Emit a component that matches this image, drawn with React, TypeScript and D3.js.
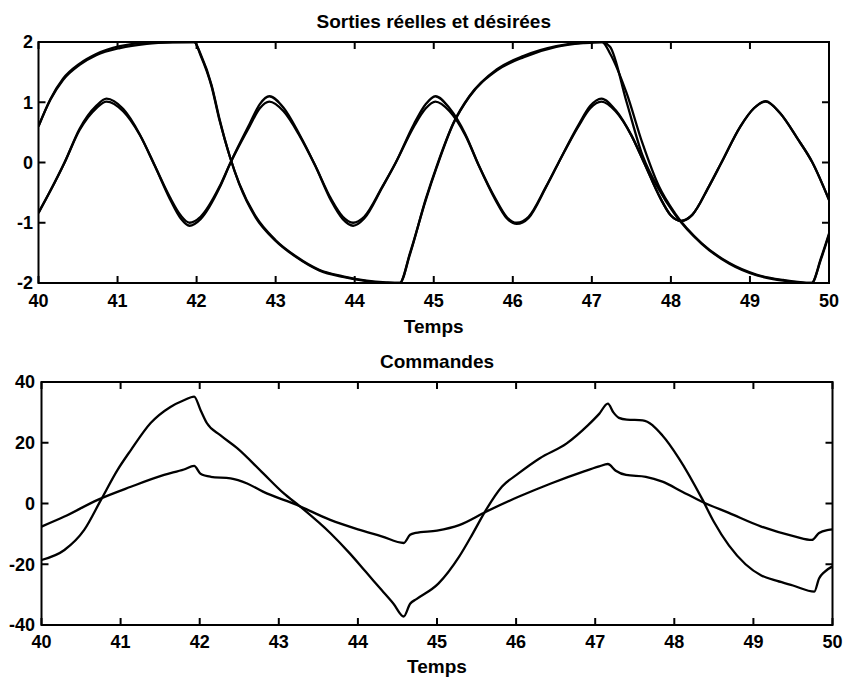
import React from "react";
import * as d3 from "d3";

// ---------- Data ----------
const xTicks = [40, 41, 42, 43, 44, 45, 46, 47, 48, 49, 50];
const topYTicks = [-2, -1, 0, 1, 2];
const bottomYTicks = [-40, -20, 0, 20, 40];

// Top panel: square-like output (desired and real)
const sqTime = [40.0, 40.15, 40.31, 40.52, 40.73, 41.03, 41.37, 41.7, 41.97, 42.05, 42.19, 42.29, 42.42, 42.54, 42.75, 43.0, 43.26, 43.55, 43.85, 44.15, 44.4, 44.57, 44.7, 44.9, 45.04, 45.25, 45.45, 45.8, 46.14, 46.55, 46.89, 47.13, 47.23, 47.44, 47.64, 47.85, 48.05, 48.39, 48.74, 49.08, 49.42, 49.78, 49.9, 50.0];
const sqDesired = [0.6, 1.04, 1.37, 1.62, 1.78, 1.9, 1.97, 1.995, 2.0, 1.78, 1.26, 0.7, 0.1, -0.35, -0.9, -1.29, -1.56, -1.78, -1.89, -1.96, -1.99, -2.0, -1.5, -0.62, -0.07, 0.65, 1.09, 1.53, 1.75, 1.92, 1.98, 2.0, 1.81, 1.15, 0.32, -0.4, -0.84, -1.34, -1.67, -1.86, -1.95, -2.0, -1.6, -1.2];
const sqReal = [0.6, 1.05, 1.39, 1.64, 1.8, 1.93, 1.99, 2.0, 2.0, 1.8, 1.28, 0.72, 0.1, -0.36, -0.92, -1.3, -1.57, -1.79, -1.9, -1.97, -2.0, -2.0, -1.52, -0.6, -0.05, 0.66, 1.1, 1.55, 1.77, 1.93, 1.99, 2.0, 1.92, 1.0, 0.12, -0.45, -0.86, -1.35, -1.68, -1.87, -1.96, -2.0, -1.58, -1.18];

// Top panel: sinusoidal output (desired and real)
const sinTime = [40.0, 40.15, 40.33, 40.52, 40.73, 40.86, 41.07, 41.28, 41.47, 41.66, 41.8, 41.91, 42.05, 42.29, 42.43, 42.67, 42.8, 42.92, 43.1, 43.3, 43.5, 43.7, 43.85, 43.98, 44.12, 44.35, 44.52, 44.75, 44.9, 45.02, 45.2, 45.4, 45.57, 45.78, 45.92, 46.05, 46.2, 46.42, 46.58, 46.83, 46.98, 47.12, 47.3, 47.5, 47.66, 47.87, 48.0, 48.13, 48.27, 48.48, 48.64, 48.88, 49.05, 49.2, 49.38, 49.6, 49.79, 50.0];
const sinDesired = [-0.84, -0.47, 0.0, 0.54, 0.9, 1.01, 0.85, 0.46, -0.05, -0.57, -0.88, -1.0, -0.9, -0.4, 0.0, 0.6, 0.9, 1.01, 0.85, 0.45, -0.05, -0.6, -0.9, -1.0, -0.9, -0.4, 0.0, 0.6, 0.9, 1.01, 0.85, 0.45, -0.05, -0.6, -0.9, -1.0, -0.9, -0.4, 0.0, 0.6, 0.9, 1.01, 0.85, 0.45, 0.0, -0.6, -0.88, -0.97, -0.87, -0.4, 0.0, 0.6, 0.9, 1.01, 0.82, 0.4, 0.0, -0.62];
const sinReal = [-0.83, -0.47, 0.0, 0.56, 0.94, 1.06, 0.89, 0.47, -0.05, -0.6, -0.93, -1.05, -0.94, -0.42, 0.0, 0.64, 0.97, 1.1, 0.91, 0.47, -0.05, -0.63, -0.94, -1.05, -0.93, -0.41, 0.0, 0.64, 0.97, 1.1, 0.9, 0.47, -0.05, -0.62, -0.92, -1.02, -0.92, -0.41, 0.0, 0.62, 0.94, 1.06, 0.87, 0.45, 0.0, -0.6, -0.88, -0.97, -0.87, -0.4, 0.0, 0.6, 0.9, 1.02, 0.82, 0.4, 0.0, -0.62];

// Bottom panel: commands
const cmdTime1 = [40.0, 40.29, 40.54, 40.75, 40.96, 41.13, 41.38, 41.63, 41.8, 41.93, 42.01, 42.09, 42.26, 42.47, 42.8, 43.06, 43.27, 43.65, 43.9, 44.1, 44.3, 44.45, 44.58, 44.66, 44.74, 45.02, 45.28, 45.45, 45.62, 45.82, 46.03, 46.3, 46.64, 46.91, 47.05, 47.16, 47.23, 47.3, 47.4, 47.6, 47.85, 48.06, 48.35, 48.5, 48.69, 48.9, 49.1, 49.3, 49.5, 49.77, 49.83, 49.9, 50.0];
const cmd1 = [-18.6, -15.3, -8.7, 1.1, 11, 17.6, 26.5, 31.8, 34, 35.2, 30.8, 26.5, 22.5, 18.3, 10, 3.4, -1, -9.7, -16.5, -22.5, -28.5, -33, -37.2, -33, -31.5, -26.3, -17.5, -10, -2.1, 5.5, 9.9, 14.9, 19.8, 25.8, 29.5, 32.9, 30, 28.2, 27.6, 27.4, 22.4, 14.8, 1.6, -6, -13.8, -20, -23.7, -25.5, -27, -29, -24.7, -22.5, -20.7];
const cmdTime2 = [40.0, 40.29, 40.71, 41.13, 41.55, 41.8, 41.93, 42.01, 42.14, 42.39, 42.6, 42.8, 43.23, 43.65, 44.0, 44.3, 44.58, 44.66, 44.73, 45.0, 45.28, 45.62, 46.03, 46.44, 46.85, 47.05, 47.16, 47.26, 47.39, 47.64, 47.85, 48.1, 48.35, 48.69, 49.1, 49.53, 49.74, 49.83, 49.95, 50.0];
const cmd2 = [-7.6, -4.3, 1.2, 5.5, 9.4, 11.2, 12.4, 9.8, 8.8, 8.3, 6.6, 3.9, -0.5, -5.4, -8.5, -10.8, -13, -10.3, -9.7, -8.9, -7.1, -2.7, 2.2, 6.6, 10.5, 12.2, 13, 10.8, 9.4, 8.8, 7.2, 3.9, 0.6, -3.1, -7.6, -10.9, -12, -9.7, -8.7, -8.5];

// ---------- Chart ----------
const FONT = "'Liberation Sans', Arial, Helvetica, sans-serif";

type Series = { t: number[]; v: number[]; curve: d3.CurveFactory };

function Panel(props: {
  x0: number; x1: number; y0: number; y1: number;
  yDomain: [number, number]; yTicks: number[];
  title: string; titleY: number; tickLabelY: number; xLabelY: number; yLabelX: number;
  series: Series[]; id: string;
}) {
  const { x0, x1, y0, y1, yDomain, yTicks, title, titleY, tickLabelY, xLabelY, yLabelX, series, id } = props;
  const x = d3.scaleLinear().domain([40, 50]).range([x0, x1]);
  const y = d3.scaleLinear().domain(yDomain).range([y1, y0]);
  const tl = 7;
  const cx = (x0 + x1) / 2;
  return (
    <g>
      <defs>
        <clipPath id={id}>
          <rect x={x0} y={y0 - 1} width={x1 - x0} height={y1 - y0 + 2} />
        </clipPath>
      </defs>
      <g clipPath={`url(#${id})`}>
        {series.map((s, i) => {
          const pts: [number, number][] = s.t.map((t, k) => [t, s.v[k]]);
          const line = d3.line<[number, number]>()
            .x((d) => x(d[0]))
            .y((d) => y(d[1]))
            .curve(s.curve);
          return (
            <path key={i} d={line(pts) || ""} fill="none" stroke="#000" strokeWidth={2.3} strokeLinejoin="round" />
          );
        })}
      </g>
      <rect x={x0} y={y0} width={x1 - x0} height={y1 - y0} fill="none" stroke="#000" strokeWidth={2} />
      {xTicks.map((t) => (
        <g key={"xt" + t}>
          <line x1={x(t)} x2={x(t)} y1={y1} y2={y1 - tl} stroke="#000" strokeWidth={2} />
          <line x1={x(t)} x2={x(t)} y1={y0} y2={y0 + tl} stroke="#000" strokeWidth={2} />
          <text x={x(t)} y={tickLabelY} textAnchor="middle" fontFamily={FONT} fontWeight="bold" fontSize={18}>{t}</text>
        </g>
      ))}
      {yTicks.map((v) => (
        <g key={"yt" + v}>
          <line x1={x0} x2={x0 + tl} y1={y(v)} y2={y(v)} stroke="#000" strokeWidth={2} />
          <line x1={x1} x2={x1 - tl} y1={y(v)} y2={y(v)} stroke="#000" strokeWidth={2} />
          <text x={yLabelX} y={y(v)} dy="0.36em" textAnchor="end" fontFamily={FONT} fontWeight="bold" fontSize={18}>{v}</text>
        </g>
      ))}
      <text x={cx} y={titleY} textAnchor="middle" fontFamily={FONT} fontWeight="bold" fontSize={19}>{title}</text>
      <text x={cx} y={xLabelY} textAnchor="middle" fontFamily={FONT} fontWeight="bold" fontSize={19}>Temps</text>
    </g>
  );
}

export default function App() {
  const smooth = d3.curveMonotoneX;
  return (
    <svg width={846} height={680} style={{ position: "absolute", left: 0, top: 0, background: "#fff" }}>
      <rect x={0} y={0} width={846} height={680} fill="#fff" />
      <Panel
        id="clipTop"
        x0={38.5} x1={829} y0={42} y1={283}
        yDomain={[-2, 2]} yTicks={topYTicks}
        title="Sorties réelles et désirées" titleY={28}
        tickLabelY={307} xLabelY={333} yLabelX={33}
        series={[
          { t: sqTime, v: sqDesired, curve: smooth },
          { t: sqTime, v: sqReal, curve: smooth },
          { t: sinTime, v: sinDesired, curve: smooth },
          { t: sinTime, v: sinReal, curve: smooth },
        ]}
      />
      <Panel
        id="clipBottom"
        x0={41.5} x1={832.5} y0={382} y1={625}
        yDomain={[-40, 40]} yTicks={bottomYTicks}
        title="Commandes" titleY={368}
        tickLabelY={648} xLabelY={673} yLabelX={35}
        series={[
          { t: cmdTime1, v: cmd1, curve: smooth },
          { t: cmdTime2, v: cmd2, curve: smooth },
        ]}
      />
    </svg>
  );
}
